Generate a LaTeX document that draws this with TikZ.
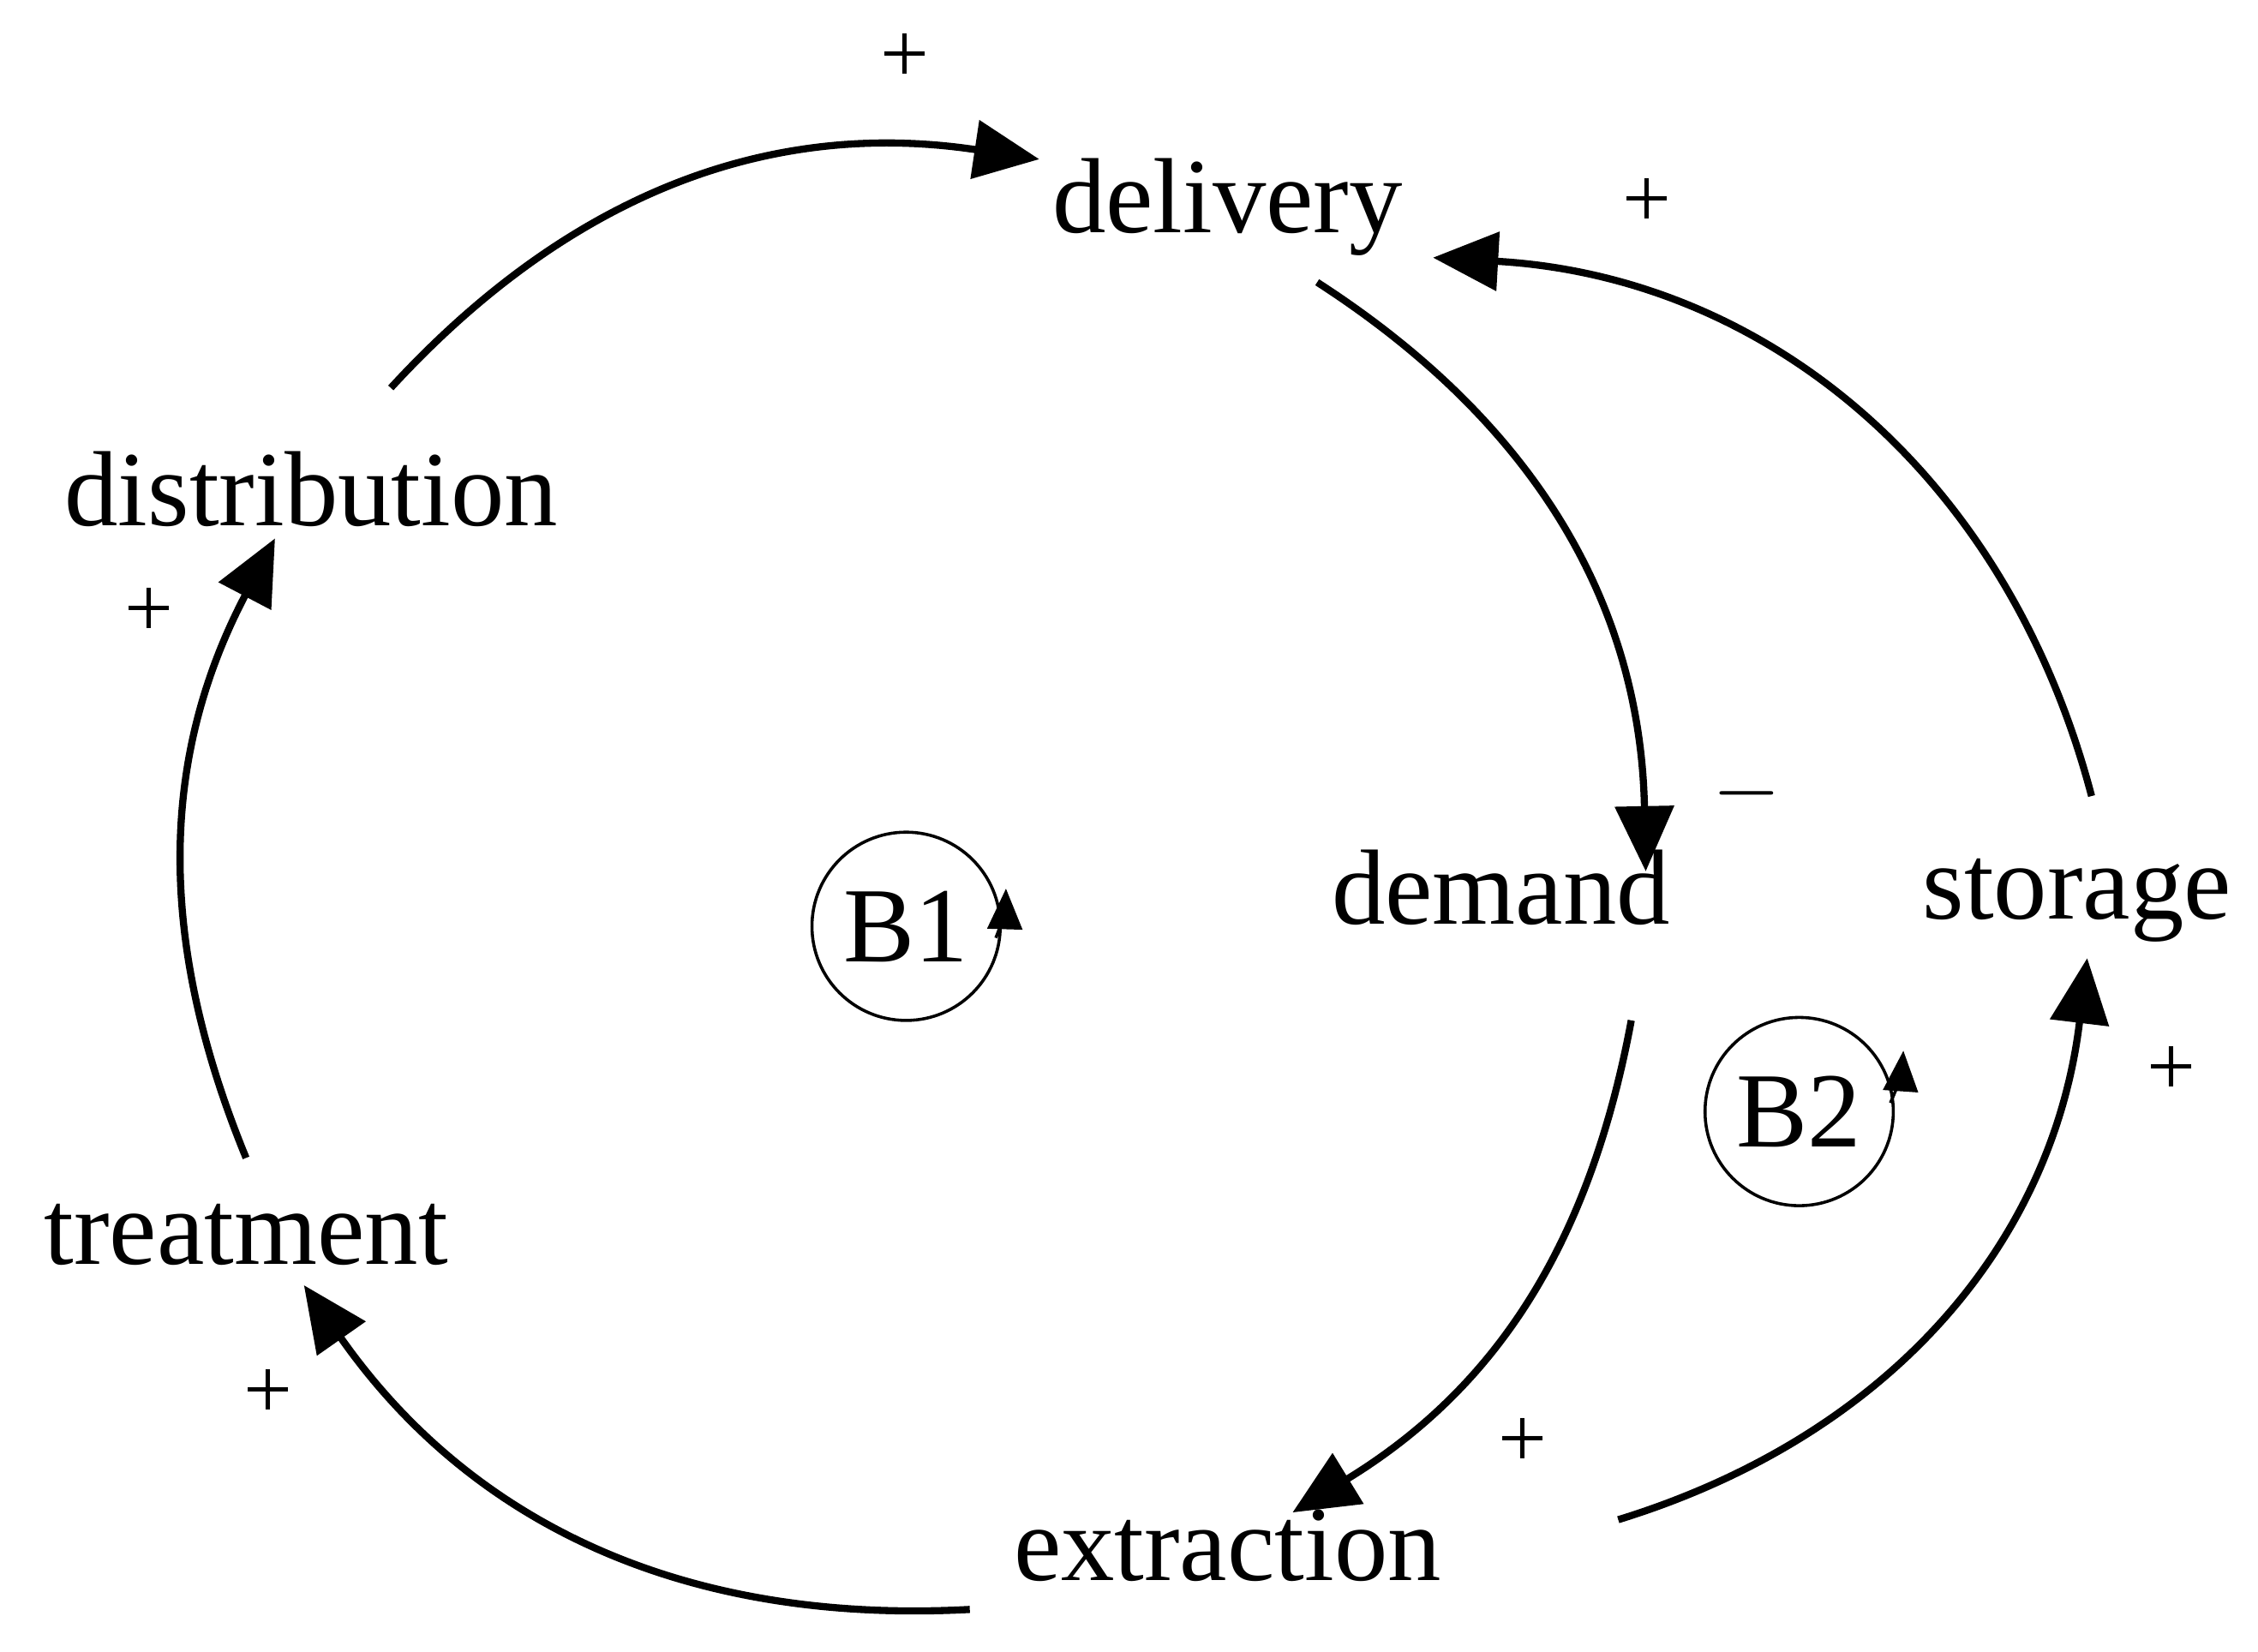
\documentclass[tikz,border=0pt]{standalone}
\usepackage{fontspec}
\setmainfont{Liberation Serif}
\usetikzlibrary{arrows.meta}
\begin{document}
\begin{tikzpicture}[x=0.01cm,y=-0.01cm,
  lbl/.style={font=\fontsize{21}{25}\selectfont,inner sep=0pt},
  sgn/.style={font=\fontsize{17}{20}\selectfont,inner sep=0pt},
  link/.style={line width=1.4pt,-{Triangle[length=0.45cm,width=0.4cm]}},
  loopc/.style={draw,circle,minimum size=1.3cm,inner sep=0pt,line width=0.6pt,font=\fontsize{21}{25}\selectfont}]
\useasboundingbox (0,0) rectangle (1560,1141);
\node[lbl] (delivery) at (848,143) {delivery};
\node[lbl] (distribution) at (215,338) {distribution};
\node[lbl] (treatment) at (170,853) {treatment};
\node[lbl] (extraction) at (848,1068) {extraction};
\node[lbl] (demand) at (1037,613) {demand};
\node[lbl] (storage) at (1435,622) {storage};
\node[loopc] (B1) at (626,640) {B1};
\node[loopc] (B2) at (1243,768) {B2};
\coordinate (a1) at (270,268); \coordinate (a2) at (718,110);
\coordinate (b1) at (170,800); \coordinate (b2) at (190,372);
\coordinate (c1) at (670,1112); \coordinate (c2) at (210,888);
\coordinate (d1) at (910,195); \coordinate (d2) at (1137,602);
\coordinate (e1) at (1127,705); \coordinate (e2) at (893,1045);
\coordinate (f1) at (1445,550); \coordinate (f2) at (990,178);
\coordinate (g1) at (1118,1050); \coordinate (g2) at (1442,662);
\draw[link] (a1) to[bend left=28] (a2);
\draw[link] (b1) to[bend left=25] (b2);
\draw[link] (c1) to[bend left=29] (c2);
\draw[link] (d1) to[bend left=28] (d2);
\draw[link] (e1) to[bend left=24] (e2);
\draw[link] (f1) to[bend right=36] (f2);
\draw[link] (g1) to[bend right=33] (g2);
\coordinate (h1) at (688,648); \coordinate (h2) at (695,614);
\coordinate (k1) at (1306,762); \coordinate (k2) at (1315,726);
\draw[line width=0.6pt,-{Triangle[length=0.28cm,width=0.24cm]}] (h1) to[bend right=10] (h2);
\draw[line width=0.6pt,-{Triangle[length=0.28cm,width=0.24cm]}] (k1) to[bend right=10] (k2);
\node[sgn] (s1) at (625,40) {+};
\node[sgn] (s2) at (1138,140) {+};
\node[sgn] (s3) at (103,423) {+};
\node[sgn] (s4) at (185,963) {+};
\node[sgn] (s5) at (1052,997) {+};
\node[sgn] (s6) at (1500,740) {+};
\node[sgn] (s7) at (1207,548) {$-$};
\end{tikzpicture}
\end{document}
